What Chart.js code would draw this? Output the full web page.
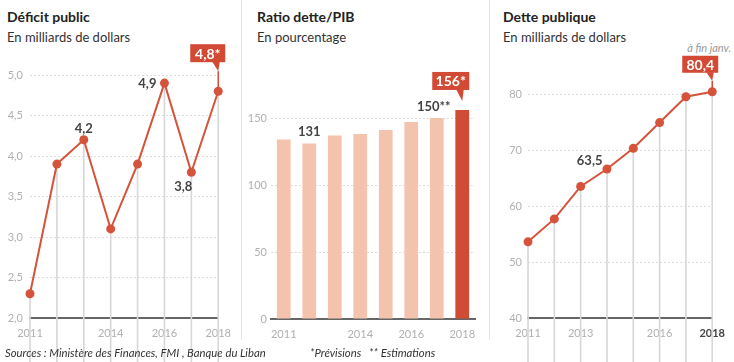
<!DOCTYPE html>
<html lang="fr">
<head>
<meta charset="utf-8">
<title>Liban : déficit, ratio dette/PIB, dette publique</title>
<script src="https://cdn.jsdelivr.net/npm/chart.js@4"></script>
<style>
  html, body { margin: 0; padding: 0; background: #fff; }
  #wrap { position: relative; width: 734px; height: 362px; overflow: hidden; font-family: Lato, "Open Sans", sans-serif; }
  canvas { position: absolute; top: 0; }
  .titre { position: absolute; top: 8px; font-weight: bold; font-size: 14px; color: #222; white-space: nowrap; }
  .sous-titre { position: absolute; top: 29px; font-size: 13px; color: #333; white-space: nowrap; }
  .sep { position: absolute; top: 0; width: 1px; height: 340px; background: #e2e6ea; }
  .note { position: absolute; font-style: italic; font-size: 11px; color: #333; white-space: nowrap; }
</style>
</head>
<body>
<div id="wrap">
  <div class="titre" style="left:7px">Déficit public</div>
  <div class="sous-titre" style="left:7px">En milliards de dollars</div>
  <div class="titre" style="left:257px">Ratio dette/PIB</div>
  <div class="sous-titre" style="left:257px">En pourcentage</div>
  <div class="titre" style="left:503px">Dette publique</div>
  <div class="sous-titre" style="left:503px">En milliards de dollars</div>
  <div class="note" style="right:3px;top:41px;font-size:11px;color:#999">à fin janv.</div>

  <div class="sep" style="left:241px"></div>
  <div class="sep" style="left:489px"></div>

  <canvas id="deficitChart" width="240" height="362" style="left:0"></canvas>
  <canvas id="ratioChart" width="243" height="362" style="left:245px"></canvas>
  <canvas id="detteChart" width="242" height="362" style="left:492px"></canvas>

  <div class="note" style="left:5px;top:346px;font-size:11.3px">Sources : Ministère des Finances, FMI , Banque du Liban</div>
  <div class="note" style="left:310px;top:346px;font-size:11.3px">*Prévisions&nbsp;&nbsp;&nbsp;** Estimations</div>
</div>

<script>
// =========================
//  DONNÉES
// =========================
const years = ['2011', '2012', '2013', '2014', '2015', '2016', '2017', '2018'];

// Déficit public, milliards de dollars
const deficit = [2.3, 3.9, 4.2, 3.1, 3.9, 4.9, 3.8, 4.8];
const deficitTicks = [2.0, 2.5, 3.0, 3.5, 4.0, 4.5, 5.0];
const deficitYears = ['2011', '2014', '2016', '2018'];

// Ratio dette/PIB, en %
const ratio = [134, 131, 137, 138, 141, 147, 150, 156];
const ratioTicks = [0, 50, 100, 150];
const ratioYears = ['2011', '2014', '2016', '2018'];

// Dette publique, milliards de dollars
const dette = [53.6, 57.7, 63.5, 66.6, 70.3, 74.9, 79.5, 80.4];
const detteTicks = [40, 50, 60, 70, 80];
const detteYears = ['2011', '2013', '2016', '2018'];

// =========================
//  STYLE COMMUN
// =========================
const RED = '#d5533b';
const RED_BOX = '#d24a34';
const BAR_LIGHT = '#f4c3ae';
const BAR_DARK = '#d04c35';
const TICK_COLOR = '#b0b0b0';

Chart.defaults.font.family = 'Lato';
Chart.defaults.animation = false;

// étiquettes de valeurs + bulle rouge, placées via les échelles
const annotationsPlugin = {
    id: 'annotations',
    afterDatasetsDraw(chart, args, opts) {
        const ctx = chart.ctx;
        const xs = chart.scales.x;
        const ys = chart.scales.y;
        const values = chart.data.datasets[0].data;

        (opts.labels || []).forEach((l) => {
            const x = xs.getPixelForValue(l.index) + (l.dx || 0);
            const y = ys.getPixelForValue(values[l.index]) + (l.dy || 0);
            ctx.save();
            ctx.font = 'bold 13px Lato';
            ctx.fillStyle = '#444';
            ctx.textAlign = l.align || 'center';
            ctx.textBaseline = 'alphabetic';
            ctx.fillText(l.text, x, y);
            ctx.restore();
        });

        const c = opts.callout;
        if (c) {
            const px = xs.getPixelForValue(c.index);
            const py = ys.getPixelForValue(values[c.index]);
            const right = px + c.dxRight;
            const bottom = py - c.gap;
            const left = right - c.w;
            const top = bottom - c.h;

            ctx.save();
            ctx.fillStyle = RED_BOX;
            ctx.fillRect(left, top, c.w, c.h);

            // pointe sous la bulle
            ctx.beginPath();
            ctx.moveTo(px - 6, bottom - 0.5);
            ctx.lineTo(px + 1.5, bottom - 0.5);
            ctx.lineTo(px, bottom + c.tail);
            ctx.closePath();
            ctx.fill();

            if (c.line) {
                ctx.strokeStyle = RED_BOX;
                ctx.lineWidth = 1.5;
                ctx.beginPath();
                ctx.moveTo(px, bottom + c.tail);
                ctx.lineTo(px, py - 3);
                ctx.stroke();
            }

            ctx.font = 'bold 14px Lato';
            ctx.fillStyle = '#fff';
            ctx.textAlign = 'center';
            ctx.textBaseline = 'middle';
            ctx.fillText(c.text, left + c.w / 2, top + c.h / 2 + 1);
            ctx.restore();
        }
    }
};

function yearTickCallback(shown) {
    return function (value, index) {
        return shown.includes(years[index]) ? years[index] : '';
    };
}

function buildScales(opt) {
    return {
        x: {
            offset: opt.offset,
            grid: { display: false, drawTicks: false, offset: opt.offset },
            border: { display: true, color: '#666', width: 2 },
            ticks: {
                autoSkip: false,
                maxRotation: 0,
                padding: 9,
                color: (ctx) => (opt.boldLast && ctx.index === years.length - 1 ? '#444' : TICK_COLOR),
                font: (ctx) => ({
                    size: 11,
                    weight: opt.boldLast && ctx.index === years.length - 1 ? 'bold' : 'normal'
                }),
                callback: yearTickCallback(opt.shownYears)
            },
            afterFit: (scale) => { scale.height = 362 - opt.bottom; }
        },
        y: {
            min: opt.ticks[0],
            max: opt.ticks[opt.ticks.length - 1],
            grid: { color: '#dcdcdc', drawTicks: false, lineWidth: 1 },
            border: { display: false, dash: [2, 2] },
            ticks: {
                padding: opt.tickPadding,
                color: TICK_COLOR,
                font: { size: 11 },
                callback: opt.format
            },
            afterBuildTicks: (scale) => {
                scale.ticks = opt.ticks.map((v) => ({ value: v }));
            },
            afterFit: (scale) => { scale.width = opt.axisWidth; }
        }
    };
}

// =========================
//  DÉFICIT PUBLIC
// =========================
new Chart(document.getElementById('deficitChart'), {
    type: 'line',
    data: {
        labels: years,
        datasets: [{
            data: deficit,
            borderColor: RED,
            backgroundColor: RED,
            borderWidth: 2,
            pointRadius: 4.5,
            pointBorderWidth: 0,
            pointBackgroundColor: RED,
            tension: 0,
            clip: false,
            order: 0
        }, {
            // traits verticaux gris jusqu'aux points
            type: 'bar',
            data: deficit,
            backgroundColor: '#d8d8d8',
            barThickness: 1,
            clip: false,
            order: 1
        }]
    },
    options: {
        responsive: false,
        layout: { padding: { top: 75, right: 17, left: 0, bottom: 0 } },
        plugins: {
            legend: { display: false },
            tooltip: { enabled: false },
            annotations: {
                labels: [
                    { index: 2, text: '4,2', dy: -7 },
                    { index: 5, text: '4,9', dx: -8, dy: 5, align: 'right' },
                    { index: 6, text: '3,8', dx: -8, dy: 19 }
                ],
                callout: { index: 7, text: '4,8*', w: 35, h: 18, dxRight: 7, gap: 29, tail: 9, line: true }
            }
        },
        scales: buildScales({
            offset: false, bottom: 318, ticks: deficitTicks, shownYears: deficitYears,
            axisWidth: 30, tickPadding: 7, boldLast: false,
            format: (v) => v.toFixed(1).replace('.', ',')
        })
    },
    plugins: [annotationsPlugin]
});

// =========================
//  RATIO DETTE/PIB
// =========================
new Chart(document.getElementById('ratioChart'), {
    type: 'bar',
    data: {
        labels: years,
        datasets: [{
            data: ratio,
            backgroundColor: years.map((y) => (y === '2018' ? BAR_DARK : BAR_LIGHT)),
            barPercentage: 0.54,
            categoryPercentage: 1,
            clip: false
        }]
    },
    options: {
        responsive: false,
        layout: { padding: { top: 118, right: 13, left: 0, bottom: 0 } },
        plugins: {
            legend: { display: false },
            tooltip: { enabled: false },
            annotations: {
                labels: [
                    { index: 1, text: '131', dy: -7 },
                    { index: 6, text: '150**', dx: -3, dy: -7 }
                ],
                callout: { index: 7, text: '156*', w: 37, h: 18, dxRight: 7, gap: 20, tail: 11, line: false }
            }
        },
        scales: buildScales({
            offset: true, bottom: 319, ticks: ratioTicks, shownYears: ratioYears,
            axisWidth: 26, tickPadding: 4, boldLast: false,
            format: (v) => String(v)
        })
    },
    plugins: [annotationsPlugin]
});

// =========================
//  DETTE PUBLIQUE
// =========================
new Chart(document.getElementById('detteChart'), {
    type: 'line',
    data: {
        labels: years,
        datasets: [{
            data: dette,
            borderColor: RED,
            backgroundColor: RED,
            borderWidth: 2,
            pointRadius: 4.5,
            pointBorderWidth: 0,
            pointBackgroundColor: RED,
            tension: 0,
            clip: false,
            order: 0
        }, {
            type: 'bar',
            data: dette,
            backgroundColor: '#d8d8d8',
            barThickness: 1,
            clip: false,
            order: 1
        }]
    },
    options: {
        responsive: false,
        layout: { padding: { top: 94, right: 15, left: 0, bottom: 0 } },
        plugins: {
            legend: { display: false },
            tooltip: { enabled: false },
            annotations: {
                labels: [
                    { index: 2, text: '63,5', dx: 9, dy: -21 }
                ],
                callout: { index: 7, text: '80,4', w: 36, h: 17, dxRight: 6, gap: 19, tail: 8, line: true }
            }
        },
        scales: buildScales({
            offset: false, bottom: 318, ticks: detteTicks, shownYears: detteYears,
            axisWidth: 36, tickPadding: 6, boldLast: true,
            format: (v) => String(v)
        })
    },
    plugins: [annotationsPlugin]
});
</script>
</body>
</html>
